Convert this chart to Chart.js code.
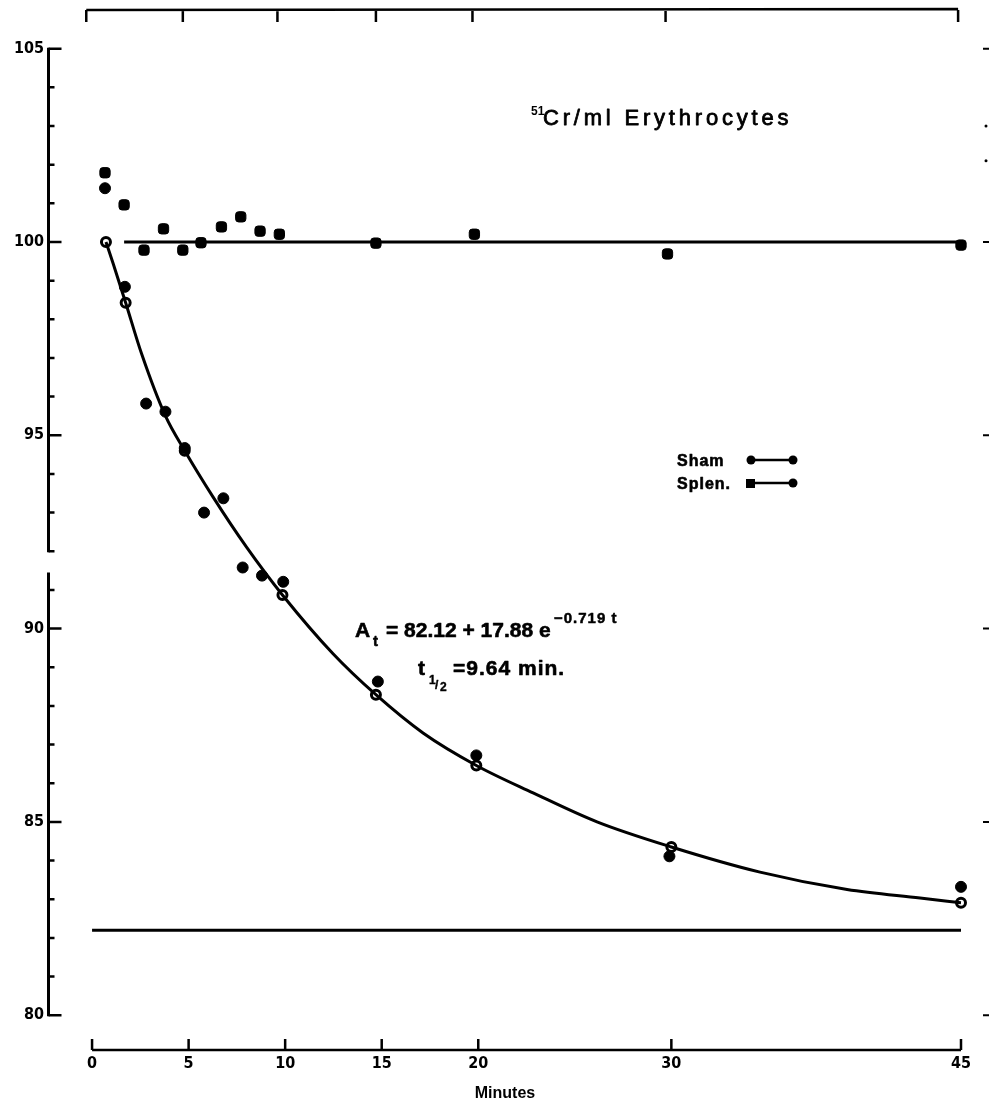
<!DOCTYPE html>
<html>
<head>
<meta charset="utf-8">
<title>51Cr/ml Erythrocytes</title>
<script src="https://cdn.jsdelivr.net/npm/chart.js@4.4.1/dist/chart.umd.min.js"></script>
<style>
  html, body { margin: 0; padding: 0; background: #fff; }
  canvas { display: block; }
</style>
</head>
<body>
<canvas id="graphs" width="989" height="1105"></canvas>
<script>
// valeurs (minutes / % de la valeur initiale)
var shamMinutes = [0.67, 1.7, 2.8, 3.8, 4.8, 5.8, 6.8, 7.8, 8.8, 9.9, 14.8, 19.9, 29.9, 45];
var shamValues = [101.39, 98.84, 95.82, 95.61, 94.67, 93.0, 93.37, 91.58, 91.37, 91.21, 88.63, 86.72, 84.11, 83.32];

var splenMinutes = [0.67, 1.66, 2.69, 3.7, 4.7, 5.64, 6.7, 7.7, 8.7, 9.7, 14.7, 19.8, 29.8, 45];
var splenValues = [101.79, 100.96, 99.79, 100.34, 99.79, 99.98, 100.39, 100.65, 100.28, 100.2, 99.97, 100.2, 99.69, 99.92];

// cercles ouverts sur la courbe ajustee
var fitMinutes = [0.72, 1.74, 4.8, 9.86, 14.7, 19.9, 30, 45];
var fitValues = [100.0, 98.43, 94.6, 90.87, 88.29, 86.46, 84.35, 82.91];

// trace de la courbe
var curveMinutes = [0.72, 1.1, 1.74, 2.57, 3.8, 4.8, 6.27, 8.01, 9.86, 12.48, 14.7, 17.14, 19.9, 22.84, 26.15, 30, 34.59, 39.1, 42.88, 45];
var curveValues = [100.0, 99.43, 98.43, 97.1, 95.5, 94.6, 93.4, 92.1, 90.87, 89.35, 88.29, 87.3, 86.46, 85.75, 85.0, 84.35, 83.7, 83.25, 83.03, 82.91];

var splenLineMinutes = [1.66, 45];
var splenLineValue = 100;
var asymptoteMinutes = [0, 45];
var asymptoteValue = 82.2;

var xTickValues = [0, 5, 10, 15, 20, 30, 45];
var topTickValues = [-0.3, 4.7, 9.6, 14.7, 19.7, 29.7, 44.85];
var yTickValues = [80, 81, 82, 83, 84, 85, 86, 87, 88, 89, 90, 91, 92, 93, 94, 95, 96, 97, 98, 99, 100, 101, 102, 103, 104, 105];
var rightMarkValues = [105, 100, 95, 90, 85, 80];
var rightDotValues = [103, 102.1];

function toPoints(xs, ys) {
    return xs.map(function(x, i) {
        return { x: x, y: Array.isArray(ys) ? ys[i] : ys };
    });
}

var tickFont = { family: '"DejaVu Sans Condensed", "DejaVu Sans", sans-serif', size: 16, weight: 'bold' };

// texte un peu epaissi, comme sur le scan
function texteGras(ctx, txt, x, y, epaisseur) {
    ctx.fillText(txt, x, y);
    if (epaisseur) {
        ctx.lineWidth = epaisseur;
        ctx.strokeText(txt, x, y);
    }
}

// axes dessines a la main (axe y coupe, cadre du haut, graduations vers l'interieur)
var axesPlugin = {
    id: 'axesMain',
    beforeDatasetsDraw: function(chart) {
        var ctx = chart.ctx;
        var xs = chart.scales.x, ys = chart.scales.y;
        var area = chart.chartArea;
        ctx.save();
        ctx.strokeStyle = '#000';
        ctx.lineCap = 'butt';

        // axe y en deux morceaux
        var ax = area.left - 0.5;
        ctx.lineWidth = 3;
        ctx.beginPath();
        ctx.moveTo(ax, ys.getPixelForValue(105) - 1);
        ctx.lineTo(ax, ys.getPixelForValue(92) + 1);
        ctx.moveTo(ax, ys.getPixelForValue(91.45));
        ctx.lineTo(ax, ys.getPixelForValue(80) + 1);
        ctx.stroke();
        ctx.lineWidth = 2.5;
        ctx.beginPath();
        yTickValues.forEach(function(v) {
            var y = ys.getPixelForValue(v);
            var len = v % 5 === 0 ? 13 : 6;
            ctx.moveTo(ax, y);
            ctx.lineTo(ax + len, y);
        });
        ctx.stroke();

        // axe x
        var by = area.bottom;
        ctx.lineWidth = 2.5;
        ctx.beginPath();
        ctx.moveTo(xs.getPixelForValue(0), by);
        ctx.lineTo(xs.getPixelForValue(45), by);
        xTickValues.forEach(function(v) {
            var x = xs.getPixelForValue(v);
            ctx.moveTo(x, by);
            ctx.lineTo(x, by - 11);
        });
        ctx.stroke();

        // cadre du haut
        var ty = area.top;
        ctx.beginPath();
        ctx.moveTo(xs.getPixelForValue(topTickValues[0]), ty);
        ctx.lineTo(xs.getPixelForValue(topTickValues[topTickValues.length - 1]), ty - 1);
        topTickValues.forEach(function(v) {
            var x = xs.getPixelForValue(v);
            ctx.moveTo(x, ty);
            ctx.lineTo(x, ty + 12);
        });
        ctx.stroke();

        // traces de l'axe de droite coupe par le bord
        ctx.lineWidth = 2;
        ctx.beginPath();
        rightMarkValues.forEach(function(v) {
            var y = ys.getPixelForValue(v);
            ctx.moveTo(983, y);
            ctx.lineTo(989, y);
        });
        ctx.stroke();
        ctx.fillStyle = '#000';
        rightDotValues.forEach(function(v) {
            ctx.beginPath();
            ctx.arc(986, ys.getPixelForValue(v), 1.5, 0, Math.PI * 2);
            ctx.fill();
        });
        ctx.restore();
    },
    afterDatasetsDraw: function(chart) {
        var ctx = chart.ctx;
        ctx.save();
        ctx.fillStyle = '#000';
        ctx.strokeStyle = '#000';
        ctx.lineJoin = 'round';
        ctx.textBaseline = 'alphabetic';
        ctx.textAlign = 'left';

        // titre
        ctx.font = 'bold 12px "Liberation Sans", Arial, sans-serif';
        texteGras(ctx, '51', 531, 115, 0);
        ctx.font = '22px "Liberation Sans", Arial, sans-serif';
        ctx.letterSpacing = '3.8px';
        texteGras(ctx, 'Cr/ml Erythrocytes', 543, 125, 0.8);

        // equation
        ctx.letterSpacing = '0px';
        ctx.font = 'bold 21px "Liberation Sans", Arial, sans-serif';
        texteGras(ctx, 'A', 355, 637, 0.6);
        texteGras(ctx, '= 82.12 + 17.88 e', 386, 637, 0.6);
        ctx.font = 'bold 15px "Liberation Sans", Arial, sans-serif';
        texteGras(ctx, 't', 373, 646, 0.5);
        ctx.font = 'bold 15px "Liberation Sans", Arial, sans-serif';
        ctx.letterSpacing = '1px';
        texteGras(ctx, '\u22120.719 t', 554, 623, 0.5);
        ctx.font = 'bold 21px "Liberation Sans", Arial, sans-serif';
        texteGras(ctx, 't', 418, 675, 0.6);
        texteGras(ctx, '=9.64 min.', 453, 675, 0.6);
        ctx.letterSpacing = '0px';
        ctx.font = 'bold 12px "Liberation Sans", Arial, sans-serif';
        texteGras(ctx, '1', 429, 684, 0.4);
        texteGras(ctx, '/', 435, 689, 0.4);
        texteGras(ctx, '2', 440, 691, 0.4);

        // legende
        ctx.font = 'bold 16px "Liberation Sans", Arial, sans-serif';
        ctx.letterSpacing = '1px';
        texteGras(ctx, 'Sham', 677, 466, 0.6);
        texteGras(ctx, 'Splen.', 677, 489, 0.6);
        ctx.letterSpacing = '0px';
        ctx.lineWidth = 2.5;
        ctx.beginPath();
        ctx.moveTo(751, 460); ctx.lineTo(793, 460);
        ctx.moveTo(751, 483); ctx.lineTo(793, 483);
        ctx.stroke();
        [[751, 460], [793, 460], [793, 483]].forEach(function(p) {
            ctx.beginPath();
            ctx.arc(p[0], p[1], 4.5, 0, Math.PI * 2);
            ctx.fill();
        });
        ctx.fillRect(746, 479, 9, 9);
        ctx.restore();
    }
};

document.addEventListener('DOMContentLoaded', function() {
    var ctx = document.getElementById('graphs').getContext('2d');
    new Chart(ctx, {
        type: 'scatter',
        data: {
            datasets: [
                {
                    label: 'Splen. line',
                    data: toPoints(splenLineMinutes, splenLineValue),
                    showLine: true,
                    borderColor: '#000',
                    borderWidth: 3,
                    pointRadius: 0,
                    clip: false
                },
                {
                    label: 'Asymptote',
                    data: toPoints(asymptoteMinutes, asymptoteValue),
                    showLine: true,
                    borderColor: '#000',
                    borderWidth: 3,
                    pointRadius: 0,
                    clip: false
                },
                {
                    label: 'Fit',
                    data: toPoints(curveMinutes, curveValues),
                    showLine: true,
                    cubicInterpolationMode: 'monotone',
                    borderColor: '#000',
                    borderWidth: 3,
                    pointRadius: 0,
                    clip: false
                },
                {
                    label: 'Splen.',
                    data: toPoints(splenMinutes, splenValues),
                    pointStyle: 'rectRounded',
                    pointRadius: 6,
                    backgroundColor: '#000',
                    borderColor: '#000',
                    borderWidth: 1,
                    clip: false
                },
                {
                    label: 'Sham',
                    data: toPoints(shamMinutes, shamValues),
                    pointStyle: 'circle',
                    pointRadius: 5.5,
                    backgroundColor: '#000',
                    borderColor: '#000',
                    borderWidth: 1,
                    clip: false
                },
                {
                    label: 'Fit points',
                    data: toPoints(fitMinutes, fitValues),
                    pointStyle: 'circle',
                    pointRadius: 4.5,
                    backgroundColor: '#fff',
                    borderColor: '#000',
                    borderWidth: 3,
                    clip: false
                }
            ]
        },
        options: {
            responsive: false,
            animation: false,
            devicePixelRatio: 1,
            layout: { padding: { left: 0, right: 28, top: 10, bottom: 0 } },
            plugins: {
                legend: { display: false },
                tooltip: { enabled: false }
            },
            scales: {
                x: {
                    type: 'linear',
                    min: -2.23,
                    max: 45,
                    grid: { display: false, drawTicks: false },
                    border: { display: false },
                    afterBuildTicks: function(scale) {
                        scale.ticks = xTickValues.map(function(v) { return { value: v }; });
                    },
                    afterFit: function(scale) { scale.height = 55; },
                    ticks: {
                        color: '#000',
                        font: tickFont,
                        padding: 4,
                        maxRotation: 0,
                        autoSkip: false
                    },
                    title: {
                        display: true,
                        text: 'Minutes',
                        color: '#000',
                        font: { family: '"Liberation Sans", Arial, sans-serif', size: 16, weight: 'bold' },
                        padding: { top: 0, bottom: 2 }
                    }
                },
                y: {
                    type: 'linear',
                    min: 79.1,
                    max: 106,
                    grid: { display: false, drawTicks: false },
                    border: { display: false },
                    afterBuildTicks: function(scale) {
                        scale.ticks = yTickValues.map(function(v) { return { value: v }; });
                    },
                    afterFit: function(scale) {
                        scale.width = 49;
                        scale.paddingTop = 0;
                        scale.paddingBottom = 0;
                    },
                    ticks: {
                        color: '#000',
                        font: tickFont,
                        padding: 5,
                        autoSkip: false,
                        callback: function(value) {
                            return value % 5 === 0 ? String(value) : '';
                        }
                    }
                }
            }
        },
        plugins: [axesPlugin]
    });
});
</script>
</body>
</html>
